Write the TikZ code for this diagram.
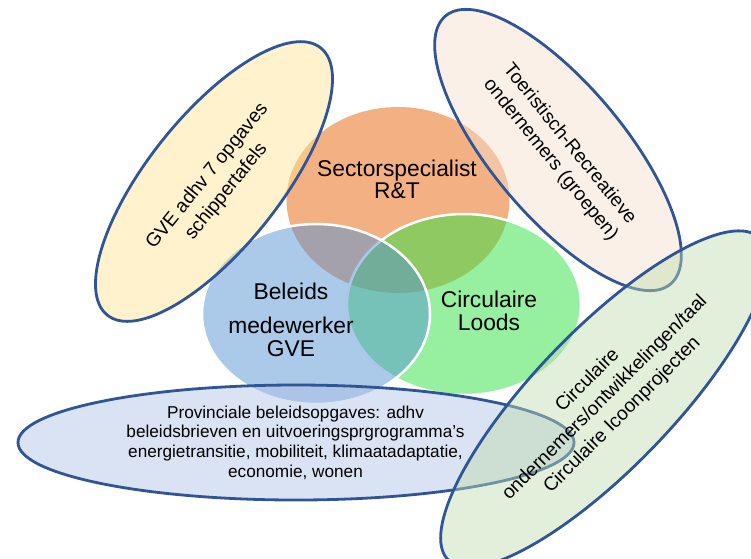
\documentclass[tikz,border=0pt]{standalone}
\usepackage{fontspec}
\setmainfont{Liberation Sans}
\definecolor{corange}{RGB}{243,177,131}
\definecolor{cgreen}{RGB}{45,225,65}
\definecolor{cblue}{RGB}{87,147,209}
\definecolor{cyellow}{RGB}{255,226,142}
\definecolor{cpink}{RGB}{246,222,205}
\definecolor{clav}{RGB}{173,193,228}
\definecolor{cgell}{RGB}{190,219,172}
\definecolor{ebord}{RGB}{47,85,151}
\begin{document}
\begin{tikzpicture}[x=1pt,y=-1pt,
  circ/.style={fill opacity=0.5, draw=white, line width=2.5pt},
  outer/.style={draw=ebord, line width=2.8pt, fill opacity=0.45},
  bigtxt/.style={font=\fontsize{22.8}{22.8}\selectfont, inner sep=0pt, anchor=base},
  rottxt/.style={font=\fontsize{19.2}{24.5}\selectfont, align=center, inner sep=0pt},
  lavtxt/.style={font=\fontsize{17.2}{19.7}\selectfont, inner sep=0pt, anchor=base}]
\useasboundingbox (0,0) rectangle (751,558);
\clip (0,0) rectangle (751,558);
% central circles
\fill[corange] (398,200) ellipse [x radius=111.5, y radius=93];
\path[circ, fill=cgreen] (464,304.5) ellipse [x radius=117, y radius=90.5];
\path[circ, fill=cblue] (316,314) ellipse [x radius=114, y radius=90];
% outer ellipses
\path[outer, fill=cyellow] (214,181.5) ellipse [x radius=171, y radius=66, rotate=51.4];
\path[outer, fill=cpink] (558,150) ellipse [x radius=175, y radius=66, rotate=-50];
\path[outer, fill=clav] (296,442.5) ellipse [x radius=278, y radius=57.5];
\path[outer, fill=cgell] (604,399) ellipse [x radius=224, y radius=69, rotate=46];
% texts
\node[bigtxt] (sec1) at (397,176) {Sectorspecialist};
\node[bigtxt] (sec2) at (397,198.3) {R\&T};
\node[bigtxt] (bel1) at (291,299.3) {Beleids};
\node[bigtxt] (bel2) at (291,333.3) {medewerker};
\node[bigtxt] (bel3) at (291,356.7) {GVE};
\node[bigtxt] (cir1) at (489,307.3) {Circulaire};
\node[bigtxt] (cir2) at (489,330) {Loods};
\node[rottxt, rotate=51] (gve) at (217,184) {GVE adhv 7 opgaves\\schippertafels};
\node[rottxt, rotate=-51] (toer) at (560,152) {Toeristisch-Recreatieve\\ondernemers (groepen)};
\node[rottxt, rotate=45] (circ) at (605,398) {Circulaire\\ondernemers/ontwikkelingen/taal\\Circulaire Icoonprojecten};
\node[lavtxt] (prov1) at (295.5,418) {Provinciale beleidsopgaves: adhv};
\node[lavtxt] (prov2) at (295.5,437.6) {beleidsbrieven en uitvoeringsprgrogramma’s};
\node[lavtxt] (prov3) at (295.5,457) {energietransitie, mobiliteit, klimaatadaptatie,};
\node[lavtxt] (prov4) at (295.5,477.4) {economie, wonen};
\end{tikzpicture}
\end{document}
